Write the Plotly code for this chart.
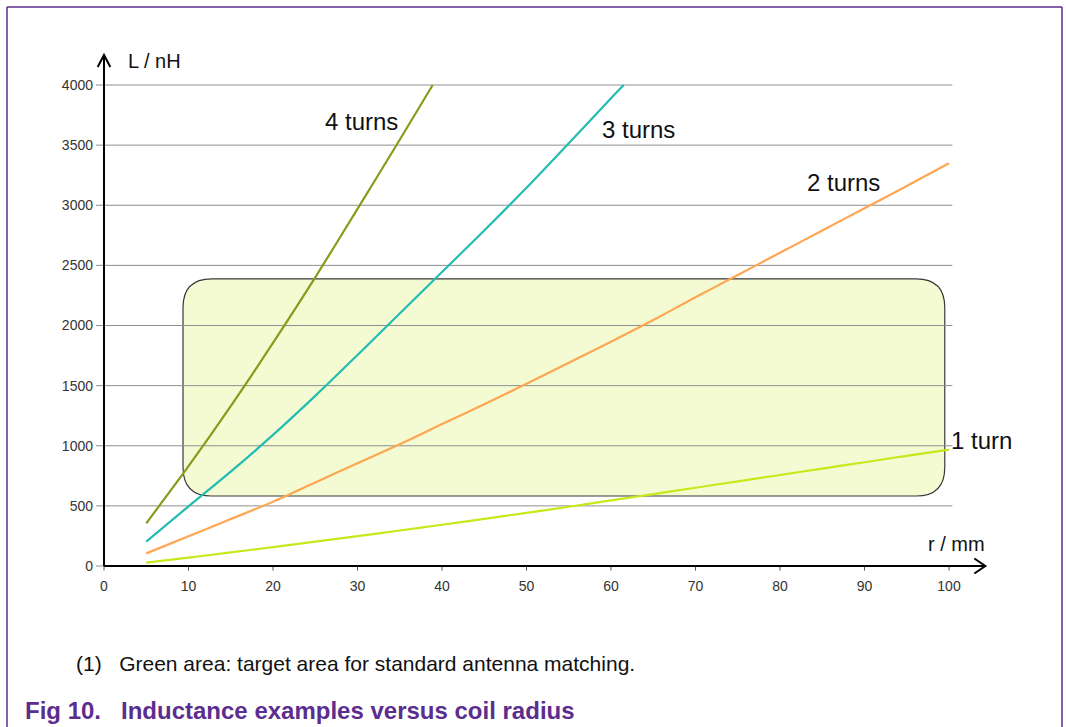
import plotly.graph_objects as go

# ---- data ----
r_4 = [5, 10, 15, 20, 25, 30, 35, 38.9]
L_4 = [355, 830, 1330, 1855, 2400, 2970, 3545, 4000]

r_3 = [5, 10, 15, 20, 25, 30, 35, 40, 45, 50, 55, 60, 61.5]
L_3 = [202, 496, 785, 1090, 1415, 1755, 2100, 2445, 2790, 3145, 3515, 3890, 4000]

r_2 = [5, 10, 15, 20, 25, 30, 35, 40, 45, 50, 55, 60, 65, 70, 75, 80, 85, 90, 95, 100]
L_2 = [105, 247, 390, 535, 695, 855, 1013, 1180, 1345, 1515, 1690, 1865, 2045, 2235,
       2420, 2605, 2790, 2975, 3160, 3350]

r_1 = [5, 10, 15, 20, 25, 30, 35, 40, 45, 50, 55, 60, 65, 70, 75, 80, 85, 90, 95, 100]
L_1 = [28, 70, 113, 157, 202, 248, 295, 343, 392, 442, 493, 545, 598, 651, 704, 757,
       810, 863, 916, 968]

series_names = ["4 turns", "3 turns", "2 turns", "1 turn"]
series_colors = ["#8A9A1B", "#22BCB2", "#FFA650", "#C6E91A"]

x_ticks = list(range(0, 101, 10))
y_ticks = list(range(0, 4001, 500))

# target area (green box)
box_r = [9.35, 99.5]
box_L = [582, 2387]

# ---- layout geometry ----
W, H = 1066, 727
X0PX, KX = 104.0, 8.45      # pixel of r=0, pixels per mm
Y0PX, KY = 566.0, 0.12025   # pixel of L=0, pixels per nH
ML, MR, MT, MB = 94, 75, 49, 151
XR = [(ML - X0PX) / KX, (W - MR - X0PX) / KX]
YR = [(Y0PX - (H - MB)) / KY, (Y0PX - MT) / KY]
PW = W - ML - MR
PH = H - MT - MB


def px2paper_x(px):
    return (px - ML) / PW


def px2paper_y(py):
    return (H - MB - py) / PH


fig = go.Figure()

for xs, ys, name, col in zip([r_4, r_3, r_2, r_1], [L_4, L_3, L_2, L_1],
                             series_names, series_colors):
    fig.add_trace(go.Scatter(x=xs, y=ys, mode="lines", name=name,
                             line=dict(color=col, width=2.2, shape="spline",
                                       smoothing=0.8),
                             showlegend=False, hoverinfo="skip"))

shapes = []
# rounded target box
x0, x1 = box_r
y0, y1 = box_L
rx = 3.4
ry = 240
path = (f"M {x0+rx},{y0} L {x1-rx},{y0} Q {x1},{y0} {x1},{y0+ry} "
        f"L {x1},{y1-ry} Q {x1},{y1} {x1-rx},{y1} "
        f"L {x0+rx},{y1} Q {x0},{y1} {x0},{y1-ry} "
        f"L {x0},{y0+ry} Q {x0},{y0} {x0+rx},{y0} Z")
shapes.append(dict(type="path", path=path, xref="x", yref="y",
                   fillcolor="#F4FAD2", line=dict(color="#3a3a3a", width=1.2),
                   layer="below"))
# gridlines (with tick stubs to the left of the axis)
for v in y_ticks:
    shapes.append(dict(type="line", xref="x", yref="y", x0=-0.95, x1=100.4 if v else 0,
                       y0=v, y1=v, line=dict(color="#8f8f8f", width=1), layer="below"))
# x tick stubs
for v in x_ticks:
    shapes.append(dict(type="line", xref="x", yref="y", x0=v, x1=v, y0=0, y1=-38,
                       line=dict(color="#555", width=1)))
# axes with arrows
shapes.append(dict(type="line", xref="x", yref="y", x0=0, x1=104.3, y0=0, y1=0,
                   line=dict(color="black", width=2)))
shapes.append(dict(type="line", xref="x", yref="y", x0=0, x1=0, y0=0, y1=4250,
                   line=dict(color="black", width=2)))
shapes.append(dict(type="path", xref="x", yref="y",
                   path="M 103.0,62 L 104.3,0 L 103.0,-62",
                   line=dict(color="black", width=2)))
shapes.append(dict(type="path", xref="x", yref="y",
                   path="M -0.75,4150 L 0,4250 L 0.75,4150",
                   line=dict(color="black", width=2)))
# purple frame
fc = "#5B2D8E"
shapes.append(dict(type="line", xref="paper", yref="paper",
                   x0=px2paper_x(7), x1=px2paper_x(7), y0=px2paper_y(7), y1=px2paper_y(727),
                   line=dict(color=fc, width=1.5)))
shapes.append(dict(type="line", xref="paper", yref="paper",
                   x0=px2paper_x(7), x1=px2paper_x(1062), y0=px2paper_y(7), y1=px2paper_y(7),
                   line=dict(color=fc, width=1.5)))
shapes.append(dict(type="line", xref="paper", yref="paper",
                   x0=px2paper_x(1062), x1=px2paper_x(1062), y0=px2paper_y(7), y1=px2paper_y(727),
                   line=dict(color=fc, width=1.5)))

annotations = []
FONT = "Liberation Sans, Arial, sans-serif"
lab_font = dict(family=FONT, size=24, color="#111")
annotations.append(dict(x=30.5, y=3700, text="4 turns", showarrow=False, font=lab_font,
                        xanchor="center", yanchor="middle"))
annotations.append(dict(x=63.3, y=3626, text="3 turns", showarrow=False, font=lab_font,
                        xanchor="center", yanchor="middle"))
annotations.append(dict(x=87.5, y=3193, text="2 turns", showarrow=False, font=lab_font,
                        xanchor="center", yanchor="middle"))
annotations.append(dict(x=100.2, y=1040, text="1 turn", showarrow=False, font=lab_font,
                        xanchor="left", yanchor="middle", xshift=-2))
ax_font = dict(family=FONT, size=20, color="#111")
annotations.append(dict(x=px2paper_x(126), y=px2paper_y(61), xref="paper", yref="paper",
                        text="L / nH", showarrow=False, font=ax_font,
                        xanchor="left", yanchor="middle"))
annotations.append(dict(x=px2paper_x(987), y=px2paper_y(544), xref="paper", yref="paper",
                        text="r / mm", showarrow=False, font=ax_font,
                        xanchor="right", yanchor="middle"))
annotations.append(dict(x=px2paper_x(74), y=px2paper_y(663), xref="paper", yref="paper",
                        text="(1)   Green area: target area for standard antenna matching.",
                        showarrow=False,
                        font=dict(family=FONT, size=21, color="#111"),
                        xanchor="left", yanchor="middle"))
annotations.append(dict(x=px2paper_x(23), y=px2paper_y(710), xref="paper", yref="paper",
                        text="<b>Fig 10.   Inductance examples versus coil radius</b>",
                        showarrow=False,
                        font=dict(family=FONT, size=24, color=fc),
                        xanchor="left", yanchor="middle"))

tick_font = dict(family=FONT, size=14, color="#333")
fig.update_layout(
    width=W, height=H,
    margin=dict(l=ML, r=MR, t=MT, b=MB),
    paper_bgcolor="white", plot_bgcolor="white",
    shapes=shapes, annotations=annotations,
    xaxis=dict(range=XR, tickvals=x_ticks, ticktext=[str(v) for v in x_ticks],
               showgrid=False, zeroline=False, showline=False, ticks="",
               tickfont=tick_font),
    yaxis=dict(range=YR, tickvals=y_ticks, ticktext=[str(v) for v in y_ticks],
               showgrid=False, zeroline=False, showline=False, ticks="",
               tickfont=tick_font),
)

fig.write_html("out.html",
               config={"displayModeBar": False},
               post_script="document.body.style.margin='0';"
                           "document.body.style.overflow='hidden';")
